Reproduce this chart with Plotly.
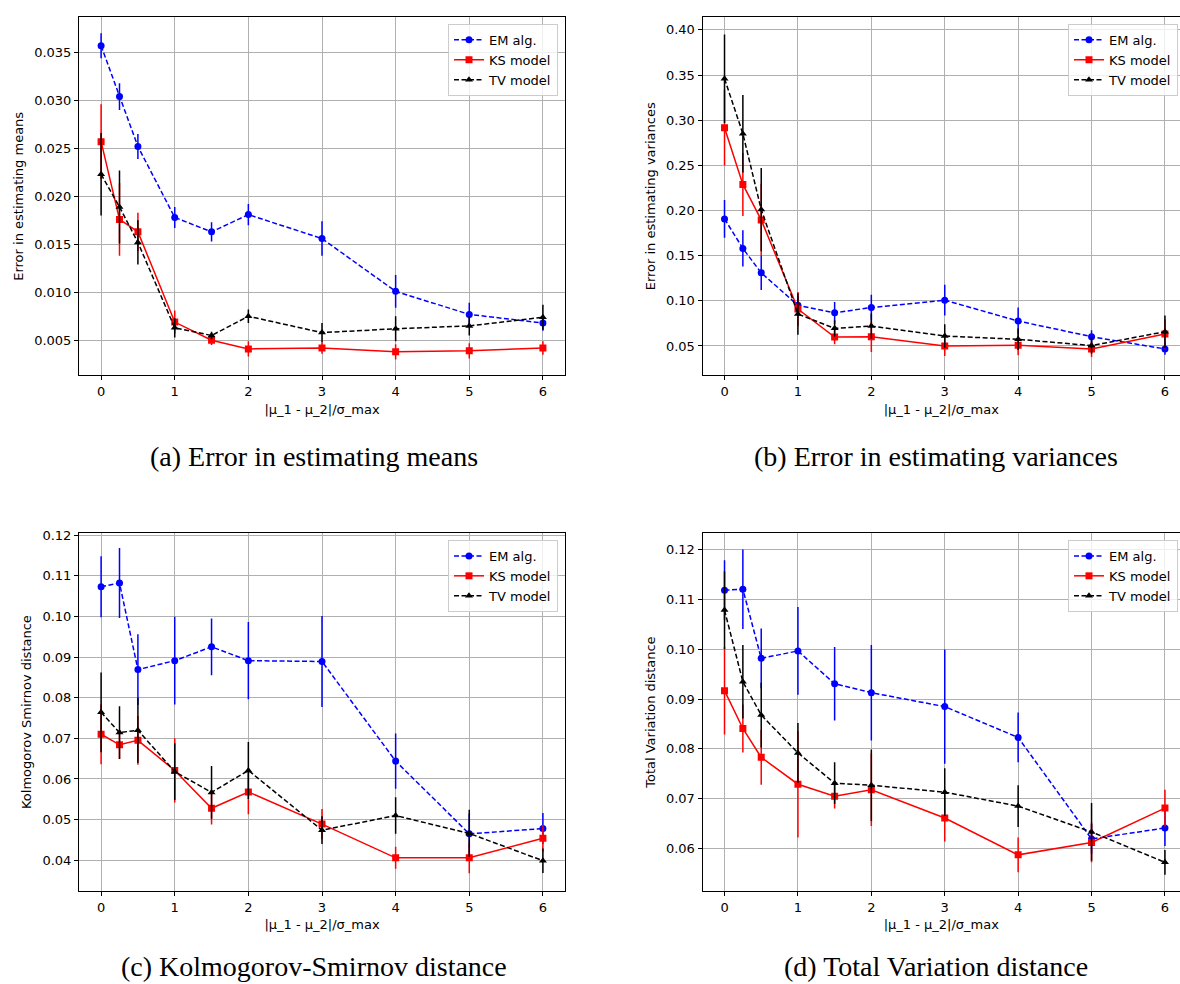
import plotly.graph_objects as go

# ---------------- data ----------------
x_vals = [0, 0.25, 0.5, 1, 1.5, 2, 3, 4, 5, 6]
series_names = ["EM alg.", "KS model", "TV model"]

# (a) Error in estimating means
means_em = [0.0357, 0.0304, 0.0252, 0.0178, 0.0163, 0.0181, 0.0156, 0.0101, 0.0077, 0.0068]
means_em_err = [0.0013, 0.0014, 0.0013, 0.0011, 0.0010, 0.0011, 0.0018, 0.0017, 0.0012, 0.0008]
means_ks = [0.0257, 0.0176, 0.0163, 0.0069, 0.0050, 0.0041, 0.0042, 0.0038, 0.0039, 0.0042]
means_ks_err = [0.0039, 0.0038, 0.0020, 0.0012, 0.0005, 0.0008, 0.0006, 0.0008, 0.0008, 0.0007]
means_tv = [0.0223, 0.0189, 0.0152, 0.0063, 0.0055, 0.0075, 0.0058, 0.0062, 0.0065, 0.0074]
means_tv_err = [0.0043, 0.0038, 0.0023, 0.0010, 0.0004, 0.0007, 0.0010, 0.0013, 0.0010, 0.0013]

# (b) Error in estimating variances
var_em = [0.1907, 0.1580, 0.1310, 0.0950, 0.0867, 0.0926, 0.1007, 0.0776, 0.0603, 0.0467]
var_em_err = [0.021, 0.020, 0.019, 0.010, 0.012, 0.014, 0.017, 0.015, 0.007, 0.0065]
var_ks = [0.2917, 0.2289, 0.1896, 0.0908, 0.0599, 0.0603, 0.0500, 0.0508, 0.0467, 0.0632]
var_ks_err = [0.042, 0.035, 0.040, 0.019, 0.008, 0.017, 0.011, 0.011, 0.009, 0.016]
var_tv = [0.3460, 0.2850, 0.2010, 0.0853, 0.0695, 0.0720, 0.0610, 0.0574, 0.0504, 0.0658]
var_tv_err = [0.049, 0.043, 0.046, 0.023, 0.009, 0.014, 0.013, 0.012, 0.009, 0.018]

# (c) Kolmogorov-Smirnov distance
ks_em = [0.1073, 0.1082, 0.0869, 0.0891, 0.0925, 0.0891, 0.0889, 0.0644, 0.0465, 0.0478]
ks_em_err = [0.0075, 0.0086, 0.0087, 0.0108, 0.0070, 0.0095, 0.0112, 0.0068, 0.0050, 0.0038]
ks_ks = [0.0710, 0.0684, 0.0695, 0.0621, 0.0528, 0.0568, 0.0489, 0.0406, 0.0406, 0.0454]
ks_ks_err = [0.0074, 0.0035, 0.0060, 0.0079, 0.0040, 0.0055, 0.0037, 0.0027, 0.0038, 0.0033]
ks_tv = [0.0764, 0.0714, 0.0720, 0.0618, 0.0567, 0.0621, 0.0474, 0.0510, 0.0466, 0.0399]
ks_tv_err = [0.0098, 0.0065, 0.0080, 0.0070, 0.0065, 0.0070, 0.0034, 0.0045, 0.0058, 0.0030]

# (d) Total Variation distance
tv_em = [0.1119, 0.1121, 0.0982, 0.0997, 0.0931, 0.0913, 0.0885, 0.0823, 0.0619, 0.0641]
tv_em_err = [0.0060, 0.0080, 0.0060, 0.0088, 0.0074, 0.0096, 0.0115, 0.0050, 0.0030, 0.0036]
tv_ks = [0.0917, 0.0841, 0.0783, 0.0729, 0.0705, 0.0718, 0.0661, 0.0587, 0.0612, 0.0681]
tv_ks_err = [0.0088, 0.0048, 0.0055, 0.0107, 0.0025, 0.0073, 0.0047, 0.0035, 0.0040, 0.0037]
tv_tv = [0.1079, 0.0935, 0.0868, 0.0792, 0.0731, 0.0727, 0.0713, 0.0685, 0.0633, 0.0572]
tv_tv_err = [0.0078, 0.0074, 0.0065, 0.0060, 0.0042, 0.0072, 0.0048, 0.0042, 0.0058, 0.0025]

captions = ["(a) Error in estimating means", "(b) Error in estimating variances",
            "(c) Kolmogorov-Smirnov distance", "(d) Total Variation distance"]
y_titles = ["Error in estimating means", "Error in estimating variances",
            "Kolmogorov Smirnov distance", "Total Variation distance"]
x_title = "|\u03bc_1 - \u03bc_2|/\u03c3_max"

# ---------------- styling ----------------
W, H = 1180, 984
FONT = "DejaVu Sans"
styles = [
    dict(color="#0000ff", symbol="circle", dash="5px,2.5px"),
    dict(color="#ff0000", symbol="square", dash="solid"),
    dict(color="#000000", symbol="triangle-up", dash="5px,2.5px"),
]

panels = [
    dict(data=[(means_em, means_em_err), (means_ks, means_ks_err), (means_tv, means_tv_err)],
         xpx=(79, 565), ypx=(12.3, 372.3), xr=[-0.3, 6.3], yr=[0.00134, 0.03867],
         ytick=[0.005, 0.010, 0.015, 0.020, 0.025, 0.030, 0.035], fmt=".3f", full=True),
    dict(data=[(var_em, var_em_err), (var_ks, var_ks_err), (var_tv, var_tv_err)],
         xpx=(702.5, 1180), ypx=(12.3, 372.3), xr=[-0.3, 6.205], yr=[0.0174, 0.414],
         ytick=[0.05, 0.10, 0.15, 0.20, 0.25, 0.30, 0.35, 0.40], fmt=".2f", full=False),
    dict(data=[(ks_em, ks_em_err), (ks_ks, ks_ks_err), (ks_tv, ks_tv_err)],
         xpx=(79, 565), ypx=(530.7, 890.7), xr=[-0.3, 6.3], yr=[0.0324, 0.1205],
         ytick=[0.04, 0.05, 0.06, 0.07, 0.08, 0.09, 0.10, 0.11, 0.12], fmt=".2f", full=True),
    dict(data=[(tv_em, tv_em_err), (tv_ks, tv_ks_err), (tv_tv, tv_tv_err)],
         xpx=(702.5, 1180), ypx=(530.7, 890.7), xr=[-0.3, 6.205], yr=[0.0514, 0.1234],
         ytick=[0.06, 0.07, 0.08, 0.09, 0.10, 0.11, 0.12], fmt=".2f", full=False),
]
legend_pos = [(558, 19), (1178, 19), (558, 537.7), (1178, 537.7)]
# (x px, y px, anchor)
caption_pos = [(314, 454, "middle"), (936, 454, "middle"), (314, 984, "bottom"), (936, 984, "bottom")]

fig = go.Figure()
layout = dict(
    width=W, height=H, margin=dict(l=0, r=0, t=0, b=0),
    paper_bgcolor="white", plot_bgcolor="white",
    font=dict(family=FONT, size=13, color="black"),
    annotations=[],
)

for i, p in enumerate(panels):
    n = "" if i == 0 else str(i + 1)
    leg = "legend" if i == 0 else "legend" + str(i + 1)
    for (vals, errs), name, st in zip(p["data"], series_names, styles):
        fig.add_trace(go.Scatter(
            x=x_vals, y=vals, name=name, mode="lines+markers",
            xaxis="x" + n, yaxis="y" + n, legend=leg,
            line=dict(color=st["color"], width=1.5, dash=st["dash"]),
            marker=dict(color=st["color"], symbol=st["symbol"], size=7),
            error_y=dict(type="data", array=errs, visible=True, thickness=1.5,
                         width=0, color=st["color"]),
        ))
    axis_common = dict(showgrid=True, gridcolor="#b0b0b0", gridwidth=1,
                       zeroline=False, ticks="outside", ticklen=4, tickwidth=1,
                       tickcolor="black", linecolor="black", linewidth=1,
                       showline=True, tickfont=dict(family=FONT, size=13, color="black"))
    layout["xaxis" + n] = dict(
        axis_common, domain=[p["xpx"][0] / W, p["xpx"][1] / W], range=p["xr"],
        anchor="y" + n, tickvals=[0, 1, 2, 3, 4, 5, 6], mirror=True,
        title=dict(text=x_title, font=dict(family=FONT, size=13), standoff=6),
    )
    layout["yaxis" + n] = dict(
        axis_common, domain=[1 - p["ypx"][1] / H, 1 - p["ypx"][0] / H], range=p["yr"],
        anchor="x" + n, tickvals=p["ytick"], tickformat=p["fmt"],
        mirror=True if p["full"] else False,
        title=dict(text=y_titles[i], font=dict(family=FONT, size=13), standoff=7),
    )
    lx, ly = legend_pos[i]
    layout[leg] = dict(
        x=lx / W, y=1 - ly / H, xanchor="right", yanchor="top",
        xref="paper", yref="paper",
        bgcolor="rgba(255,255,255,0.8)", bordercolor="#cccccc", borderwidth=1,
        font=dict(family=FONT, size=13, color="black"), tracegroupgap=0,
    )
    cx, cy, anc = caption_pos[i]
    layout["annotations"].append(dict(
        text=captions[i], x=cx / W, y=1 - cy / H, xref="paper", yref="paper",
        xanchor="center", yanchor=anc, showarrow=False,
        font=dict(family="Liberation Serif", size=28, color="black"),
    ))

fig.update_layout(**layout)
fig.write_html("out.html")
